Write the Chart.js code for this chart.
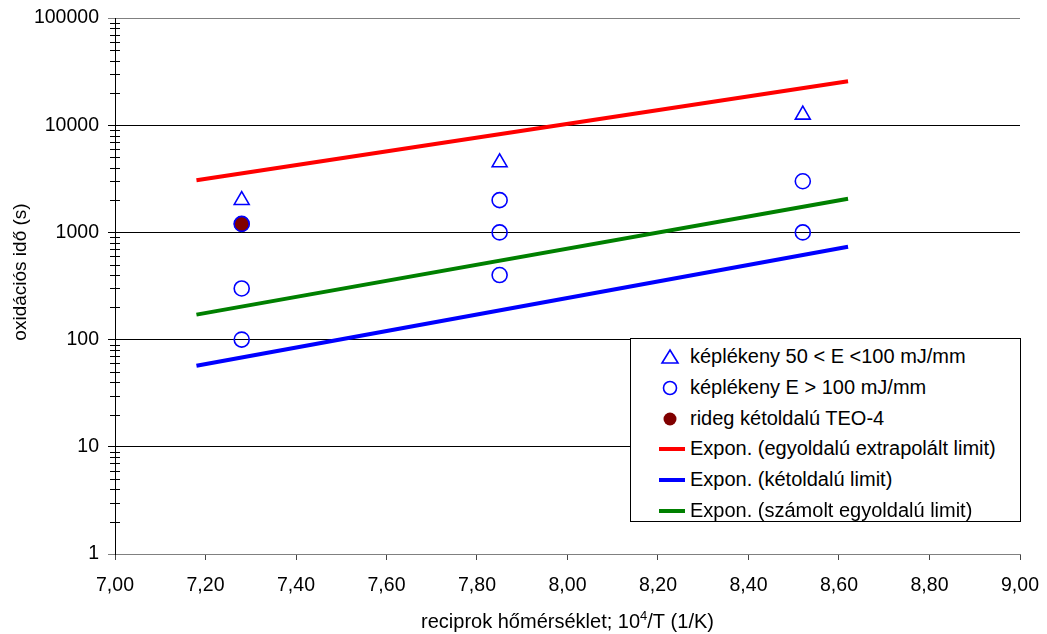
<!DOCTYPE html>
<html>
<head>
<meta charset="utf-8">
<script src="https://cdn.jsdelivr.net/npm/chart.js@4.4.1/dist/chart.umd.min.js"></script>
<style>
  body { margin: 0; background: #fff; }
  #wrap { position: relative; width: 1047px; height: 634px; }
  #legend {
    position: absolute; left: 630px; top: 338px; width: 389px; height: 182px;
    background: #fff; border: 1px solid #000;
    font-family: "Liberation Sans", Arial, sans-serif; font-size: 20px; color: #000;
  }
  #legend .row { position: absolute; left: 0; height: 31px; line-height: 31px; white-space: nowrap; }
  #legend .row span { position: absolute; left: 59px; top: 0; }
  #legend svg { position: absolute; left: 24px; top: 0; }
</style>
</head>
<body>
<div id="wrap">
  <canvas id="chart" width="1047" height="634"></canvas>
  <div id="legend"></div>
</div>
<script>
// mérési pontok (x = 10^4/T, y = oxidációs idő s-ban)
const triangleX = [7.28, 7.85, 8.52];
const triangleY = [2000, 4500, 12500];
const circleX = [7.28, 7.28, 7.28, 7.85, 7.85, 7.85, 8.52, 8.52];
const circleY = [1200, 300, 100, 2000, 1000, 400, 3000, 1000];
const filledX = [7.28];
const filledY = [1200];

// exponenciális trendvonalak végpontjai
const trendX = [7.18, 8.62];
const redY = [3070, 25700];
const blueY = [57, 735];
const greenY = [171, 2060];

const yTicks = [1, 10, 100, 1000, 10000, 100000];
const xMin = 7.0, xMax = 9.0, xStep = 0.2;

const labels = [
  'képlékeny 50 < E <100 mJ/mm',
  'képlékeny E > 100 mJ/mm',
  'rideg kétoldalú TEO-4',
  'Expon. (egyoldalú extrapolált limit)',
  'Expon. (kétoldalú limit)',
  'Expon. (számolt egyoldalú limit)'
];

const FONT = '"Liberation Sans", Arial, sans-serif';
const pts = (xs, ys) => xs.map((x, i) => ({ x: x, y: ys[i] }));

// kis osztások a log tengelyen + tengelyfeliratok
const extras = {
  id: 'extras',
  afterDraw(chart) {
    const ctx = chart.ctx;
    const y = chart.scales.y;
    const area = chart.chartArea;
    ctx.save();
    ctx.strokeStyle = '#000';
    ctx.lineWidth = 1;
    ctx.beginPath();
    for (let d = 1; d < 100000; d *= 10) {
      for (let m = 2; m <= 9; m++) {
        const py = Math.round(y.getPixelForValue(d * m)) + 0.5;
        ctx.moveTo(area.left - 5, py);
        ctx.lineTo(area.left + 5, py);
      }
    }
    ctx.stroke();

    // y tengely címe
    ctx.fillStyle = '#000';
    ctx.font = '19px ' + FONT;
    ctx.textAlign = 'center';
    ctx.textBaseline = 'middle';
    ctx.translate(21, 272);
    ctx.rotate(-Math.PI / 2);
    ctx.fillText('oxidációs idő (s)', 0, 0);
    ctx.restore();

    // x tengely címe felső indexszel
    ctx.save();
    ctx.fillStyle = '#000';
    ctx.textBaseline = 'alphabetic';
    ctx.textAlign = 'left';
    const a = 'reciprok hőmérséklet; 10', b = '4', c = '/T (1/K)';
    ctx.font = '20px ' + FONT;
    const wa = ctx.measureText(a).width, wc = ctx.measureText(c).width;
    ctx.font = '13px ' + FONT;
    const wb = ctx.measureText(b).width;
    const total = wa + wb + wc;
    let x0 = (area.left + area.right) / 2 - total / 2;
    const base = 628;
    ctx.font = '20px ' + FONT;
    ctx.fillText(a, x0, base);
    ctx.font = '13px ' + FONT;
    ctx.fillText(b, x0 + wa, base - 8);
    ctx.font = '20px ' + FONT;
    ctx.fillText(c, x0 + wa + wb, base);
    ctx.restore();
  }
};

new Chart(document.getElementById('chart'), {
  type: 'scatter',
  data: {
    datasets: [
      { label: labels[1], data: pts(circleX, circleY), order: 1,
        pointStyle: 'circle', pointRadius: 7.5, pointBorderWidth: 1.6,
        pointBorderColor: '#0000ff', pointBackgroundColor: 'rgba(0,0,0,0)', showLine: false },
      { label: labels[2], data: pts(filledX, filledY), order: 2,
        pointStyle: 'circle', pointRadius: 7.5, pointBorderWidth: 1,
        pointBorderColor: '#800000', pointBackgroundColor: '#800000', showLine: false },
      { label: labels[0], data: pts(triangleX, triangleY), order: 0,
        pointStyle: 'triangle', pointRadius: 8.6, pointBorderWidth: 1.6,
        pointBorderColor: '#0000ff', pointBackgroundColor: 'rgba(0,0,0,0)', showLine: false },
      { label: labels[3], data: pts(trendX, redY), order: 5, showLine: true,
        borderColor: '#ff0000', borderWidth: 4, pointRadius: 0 },
      { label: labels[4], data: pts(trendX, blueY), order: 5, showLine: true,
        borderColor: '#0000ff', borderWidth: 4, pointRadius: 0 },
      { label: labels[5], data: pts(trendX, greenY), order: 5, showLine: true,
        borderColor: '#008000', borderWidth: 4, pointRadius: 0 }
    ]
  },
  options: {
    responsive: false,
    animation: false,
    layout: { padding: { left: 0, top: 18, right: 27, bottom: 0 } },
    plugins: { legend: { display: false }, tooltip: { enabled: false } },
    scales: {
      x: {
        type: 'linear', min: xMin, max: xMax,
        afterFit: (s) => { s.height = 80; s.paddingLeft = 0; s.paddingRight = 0; },
        ticks: {
          stepSize: xStep, padding: 14, color: '#000',
          font: { family: FONT, size: 19.5 },
          callback: (v) => v.toFixed(2).replace('.', ',')
        },
        grid: { drawOnChartArea: false, drawTicks: true, tickLength: 6, color: '#444' },
        border: { display: true, color: '#808080', width: 1 }
      },
      y: {
        type: 'logarithmic', min: 1, max: 100000,
        afterFit: (s) => { s.width = 115; s.paddingTop = 0; s.paddingBottom = 0; },
        afterBuildTicks: (s) => { s.ticks = yTicks.map(v => ({ value: v })); },
        ticks: {
          padding: 9, color: '#000',
          font: { family: FONT, size: 19.5 },
          callback: (v) => String(v)
        },
        grid: {
          drawTicks: true, tickLength: 7, lineWidth: 1,
          color: (c) => (c.tick && (c.tick.value === 100000 || c.tick.value === 1)) ? '#808080' : '#000'
        },
        border: { display: true, color: '#000', width: 1 }
      }
    }
  },
  plugins: [extras]
});

// jelmagyarázat
const legendEl = document.getElementById('legend');
const symbols = [
  '<svg width="30" height="31"><polygon points="15,9 23,22 7,22" fill="none" stroke="#0000ff" stroke-width="1.6"/></svg>',
  '<svg width="30" height="31"><circle cx="15" cy="16" r="6.5" fill="none" stroke="#0000ff" stroke-width="1.6"/></svg>',
  '<svg width="30" height="31"><circle cx="15" cy="16" r="6.5" fill="#800000"/></svg>',
  '<svg width="30" height="31"><line x1="4" y1="16" x2="30" y2="16" stroke="#ff0000" stroke-width="4"/></svg>',
  '<svg width="30" height="31"><line x1="4" y1="16" x2="30" y2="16" stroke="#0000ff" stroke-width="4"/></svg>',
  '<svg width="30" height="31"><line x1="4" y1="16" x2="30" y2="16" stroke="#008000" stroke-width="4"/></svg>'
];
const rowTops = [2, 33, 64, 94, 125, 156];
labels.forEach((t, i) => {
  const row = document.createElement('div');
  row.className = 'row';
  row.style.top = rowTops[i] + 'px';
  row.innerHTML = symbols[i] + '<span></span>';
  row.querySelector('span').textContent = t;
  legendEl.appendChild(row);
});
</script>
</body>
</html>
